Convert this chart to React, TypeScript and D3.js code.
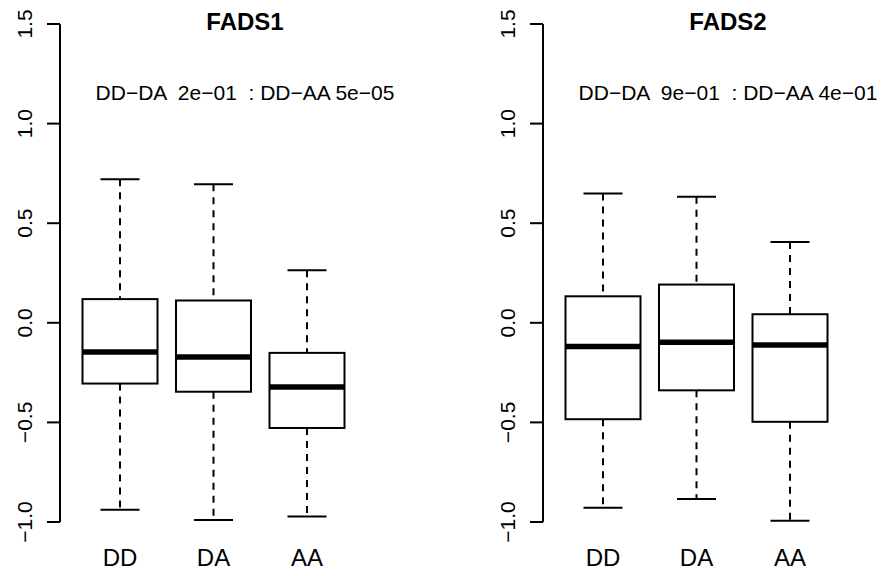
import React from 'react';
import { scaleLinear } from 'd3';

// genotype groups
const groups = ['DD', 'DA', 'AA'];

// FADS1 box stats
const fads1Low = [-0.938, -0.99, -0.972];
const fads1Q1 = [-0.305, -0.346, -0.528];
const fads1Med = [-0.146, -0.172, -0.322];
const fads1Q3 = [0.119, 0.112, -0.151];
const fads1High = [0.721, 0.696, 0.264];

// FADS2 box stats
const fads2Low = [-0.929, -0.885, -0.994];
const fads2Q1 = [-0.484, -0.339, -0.497];
const fads2Med = [-0.119, -0.098, -0.111];
const fads2Q3 = [0.133, 0.192, 0.043];
const fads2High = [0.649, 0.633, 0.405];

const yTicks = [-1.0, -0.5, 0.0, 0.5, 1.0, 1.5];
const titles = ['FADS1', 'FADS2'];
const notes = ['DD\u2212DA  2e\u221201  : DD\u2212AA 5e\u221205', 'DD\u2212DA  9e\u221201  : DD\u2212AA 4e\u221201'];

const width = 881;
const height = 576;
const font = '"Liberation Sans", Arial, Helvetica, sans-serif';

function fmt(v) {
  return v.toFixed(1).replace('-', '\u2212');
}

function Panel({ axisX, title, note, low, q1, med, q3, high }) {
  const y = scaleLinear().domain([-1, 1.5]).range([522, 24]);
  const x = scaleLinear().domain([1, 3]).range([axisX + 60, axisX + 247]);
  const boxW = 75;
  const capW = 39;
  const center = axisX + 185;

  return (
    <g>
      <text x={center} y={30} textAnchor="middle" fontFamily={font} fontWeight="bold" fontSize={24}>{title}</text>
      <text x={center} y={100} textAnchor="middle" fontFamily={font} fontSize={21} style={{ whiteSpace: 'pre' }}>{note}</text>

      {/* y axis */}
      <line x1={axisX} x2={axisX} y1={y(-1)} y2={y(1.5)} stroke="#000" strokeWidth={2} />
      {yTicks.map(t => (
        <g key={t}>
          <line x1={axisX - 13} x2={axisX} y1={y(t)} y2={y(t)} stroke="#000" strokeWidth={2} />
          <text transform={`translate(${axisX - 28},${y(t)}) rotate(-90)`} textAnchor="middle" fontFamily={font} fontSize={21}>{fmt(t)}</text>
        </g>
      ))}

      {groups.map((g, i) => {
        const cx = x(i + 1);
        return (
          <g key={g}>
            <line x1={cx} x2={cx} y1={y(high[i])} y2={y(q3[i])} stroke="#000" strokeWidth={2} strokeDasharray="7,6" />
            <line x1={cx} x2={cx} y1={y(q1[i])} y2={y(low[i])} stroke="#000" strokeWidth={2} strokeDasharray="7,6" />
            <line x1={cx - capW / 2} x2={cx + capW / 2} y1={y(high[i])} y2={y(high[i])} stroke="#000" strokeWidth={2} />
            <line x1={cx - capW / 2} x2={cx + capW / 2} y1={y(low[i])} y2={y(low[i])} stroke="#000" strokeWidth={2} />
            <rect x={cx - boxW / 2} y={y(q3[i])} width={boxW} height={y(q1[i]) - y(q3[i])} fill="white" stroke="#000" strokeWidth={2} />
            <line x1={cx - boxW / 2} x2={cx + boxW / 2} y1={y(med[i])} y2={y(med[i])} stroke="#000" strokeWidth={5.5} />
            <text x={cx} y={566} textAnchor="middle" fontFamily={font} fontSize={24}>{g}</text>
          </g>
        );
      })}
    </g>
  );
}

export default function App() {
  return (
    <svg width={width} height={height} style={{ position: 'absolute', left: 0, top: 0, background: 'white' }}>
      <rect width={width} height={height} fill="white" />
      <Panel axisX={60} title={titles[0]} note={notes[0]} low={fads1Low} q1={fads1Q1} med={fads1Med} q3={fads1Q3} high={fads1High} />
      <Panel axisX={543} title={titles[1]} note={notes[1]} low={fads2Low} q1={fads2Q1} med={fads2Med} q3={fads2Q3} high={fads2High} />
    </svg>
  );
}
